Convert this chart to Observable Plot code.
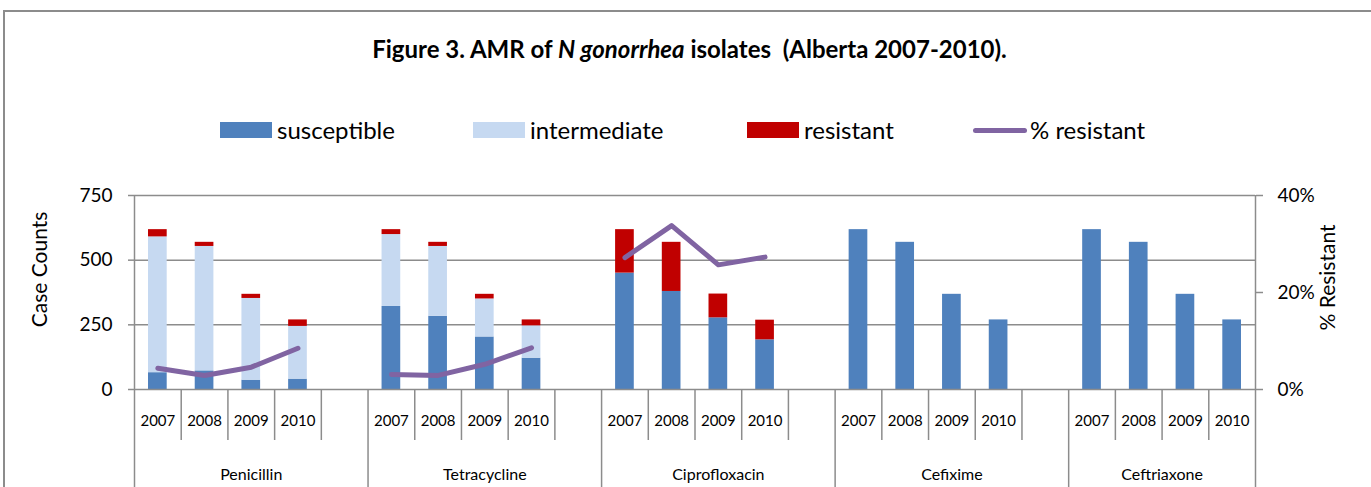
<!DOCTYPE html>
<html>
<head>
<meta charset="utf-8">
<script src="https://cdn.jsdelivr.net/npm/d3@7"></script>
<script src="https://cdn.jsdelivr.net/npm/@observablehq/plot@0.6"></script>
<style>
  html, body { margin: 0; padding: 0; background: #fff; }
  #wrap { position: relative; width: 1371px; height: 487px; overflow: hidden; font-family: Lato, "Open Sans", sans-serif; color: #000; }
  #frame { position: absolute; left: 3px; top: 10px; width: 1500px; height: 700px; border: 2px solid #8c8c8c; box-sizing: border-box; }
  #title { position: absolute; left: 4px; top: 34px; width: 1371px; text-align: center; font-weight: bold; font-size: 24px; line-height: 30px; white-space: pre; }
  .leg { position: absolute; top: 116px; height: 28px; display: flex; align-items: center; font-size: 24px; line-height: 28px; }
  .sw { width: 52px; height: 16px; margin-right: 5px; }
  .ln { width: 54px; height: 5px; border-radius: 3px; margin-right: 3px; }
  #chart { position: absolute; left: 0; top: 160px; }
</style>
</head>
<body>
<div id="wrap">
  <div id="frame"></div>
  <div id="title">Figure 3. AMR of <i>N gonorrhea</i> isolates  (Alberta 2007-2010).</div>
  <div id="legend"></div>
  <div id="chart"></div>
</div>
<script>
// ---- data ----
const drugs = ["Penicillin", "Tetracycline", "Ciprofloxacin", "Cefixime", "Ceftriaxone"];
const years = ["2007", "2008", "2009", "2010"];
const statuses = ["susceptible", "intermediate", "resistant"];
const colors = ["#4F81BD", "#C6D9F1", "#C00000"];
const lineColor = "#8064A2";
const susceptible  = [[65, 72, 36, 40], [321, 283, 203, 121], [450, 379, 277, 192], [618, 569, 368, 269], [618, 569, 368, 269]];
const intermediate = [[525, 481, 316, 204], [278, 270, 147, 125], [0, 0, 0, 0], [0, 0, 0, 0], [0, 0, 0, 0]];
const resistant    = [[28, 16, 16, 25], [19, 16, 18, 23], [168, 190, 92, 76], [0, 0, 0, 0], [0, 0, 0, 0]];
const pctResistant = [[4.4, 2.9, 4.6, 8.5], [3.1, 2.9, 5.2, 8.6], [27.2, 33.8, 25.7, 27.3], null, null];
const countTicks = [0, 250, 500, 750];
const pctTicks = [0, 20, 40];
const countMax = 750, pctMax = 40;

// ---- derived tables ----
const slotsPerDrug = 5;
const nSlots = drugs.length * slotsPerDrug - 1;
const segs = [];
const lineData = [];
drugs.forEach((drug, d) => {
  years.forEach((year, j) => {
    const slot = d * slotsPerDrug + j;
    const vals = [susceptible[d][j], intermediate[d][j], resistant[d][j]];
    let acc = 0;
    vals.forEach((v, k) => {
      if (v > 0) segs.push({drug, year, slot, status: statuses[k], y1: acc, y2: acc + v});
      acc += v;
    });
    if (pctResistant[d]) lineData.push({drug, year, slot, pct: pctResistant[d][j]});
  });
});
const yearCenters = [];
const yearBounds = [];
drugs.forEach((drug, d) => {
  years.forEach((y, j) => yearCenters.push(d * slotsPerDrug + j + 0.5));
  for (let j = 1; j <= years.length; j++) {
    const b = d * slotsPerDrug + j;
    if (b < nSlots) yearBounds.push(b);
  }
});
const groupBounds = drugs.map((_, d) => d * slotsPerDrug).concat([nSlots]);
const groupCenters = drugs.map((_, d) => (groupBounds[d] + groupBounds[d + 1]) / 2);

// ---- legend ----
const legendItems = [
  {label: "susceptible", color: colors[0], left: 220, type: "sw"},
  {label: "intermediate", color: colors[1], left: 473, type: "sw"},
  {label: "resistant", color: colors[2], left: 747, type: "sw"},
  {label: "% resistant", color: lineColor, left: 973, type: "ln"}
];
const legend = document.getElementById("legend");
legendItems.forEach(it => {
  const el = document.createElement("div");
  el.className = "leg";
  el.style.left = it.left + "px";
  const sw = document.createElement("div");
  sw.className = it.type;
  sw.style.background = it.color;
  el.appendChild(sw);
  el.appendChild(document.createTextNode(it.label));
  legend.appendChild(el);
});

// ---- chart ----
const gray = "#8c8c8c";
const toCount = p => p / pctMax * countMax;
const chart = Plot.plot({
  width: 1371,
  height: 327,
  marginTop: 35,
  marginBottom: 98,
  marginLeft: 134,
  marginRight: 116,
  x: {type: "linear", domain: [0, nSlots], axis: null},
  y: {domain: [0, countMax], axis: null},
  color: {domain: statuses, range: colors},
  style: {fontFamily: "Lato, 'Open Sans', sans-serif", color: "#000", background: "transparent", overflow: "visible"},
  marks: [
    Plot.ruleY(countTicks.filter(t => t > 0), {stroke: gray, strokeWidth: 1.5}),
    Plot.rect(segs, {x1: d => d.slot + 0.3, x2: d => d.slot + 0.7, y1: "y1", y2: "y2", fill: "status"}),
    Plot.line(lineData, {x: d => d.slot + 0.5, y: d => toCount(d.pct), z: "drug", stroke: lineColor, strokeWidth: 5, strokeLinecap: "round", strokeLinejoin: "round"}),
    Plot.ruleY([0], {stroke: gray, strokeWidth: 1.5}),
    Plot.ruleX([0, nSlots], {y1: 0, y2: countMax, stroke: gray, strokeWidth: 1.5}),
    Plot.axisY({anchor: "left", ticks: countTicks, tickSize: 6, tickPadding: 16, fontSize: 19, stroke: gray, strokeWidth: 1.5}),
    Plot.axisY({anchor: "right", ticks: pctTicks.map(toCount), tickFormat: d => `${Math.round(d / countMax * pctMax)}%`, tickSize: 7, tickPadding: 15, fontSize: 19, stroke: gray, strokeWidth: 1.5}),
    Plot.axisX({ticks: yearBounds, tickSize: 51, tickFormat: () => "", stroke: gray, strokeWidth: 1.5}),
    Plot.axisX({ticks: groupBounds, tickSize: 100, tickFormat: () => "", stroke: gray, strokeWidth: 1.5}),
    Plot.axisX({ticks: yearCenters, tickSize: 0, tickPadding: 26, fontSize: 15, tickFormat: d => years[Math.floor(d) % slotsPerDrug]}),
    Plot.axisX({ticks: groupCenters, tickSize: 0, tickPadding: 79, fontSize: 16, tickFormat: d => drugs[Math.floor(d / slotsPerDrug)]}),
    Plot.text(["Case Counts"], {text: d => d, frameAnchor: "left", textAnchor: "middle", lineAnchor: "middle", rotate: -90, dx: -94, dy: -23, fontSize: 21}),
    Plot.text(["% Resistant"], {text: d => d, frameAnchor: "right", textAnchor: "middle", lineAnchor: "middle", rotate: -90, dx: 73, dy: -15, fontSize: 21})
  ]
});
document.getElementById("chart").appendChild(chart);
</script>
</body>
</html>
